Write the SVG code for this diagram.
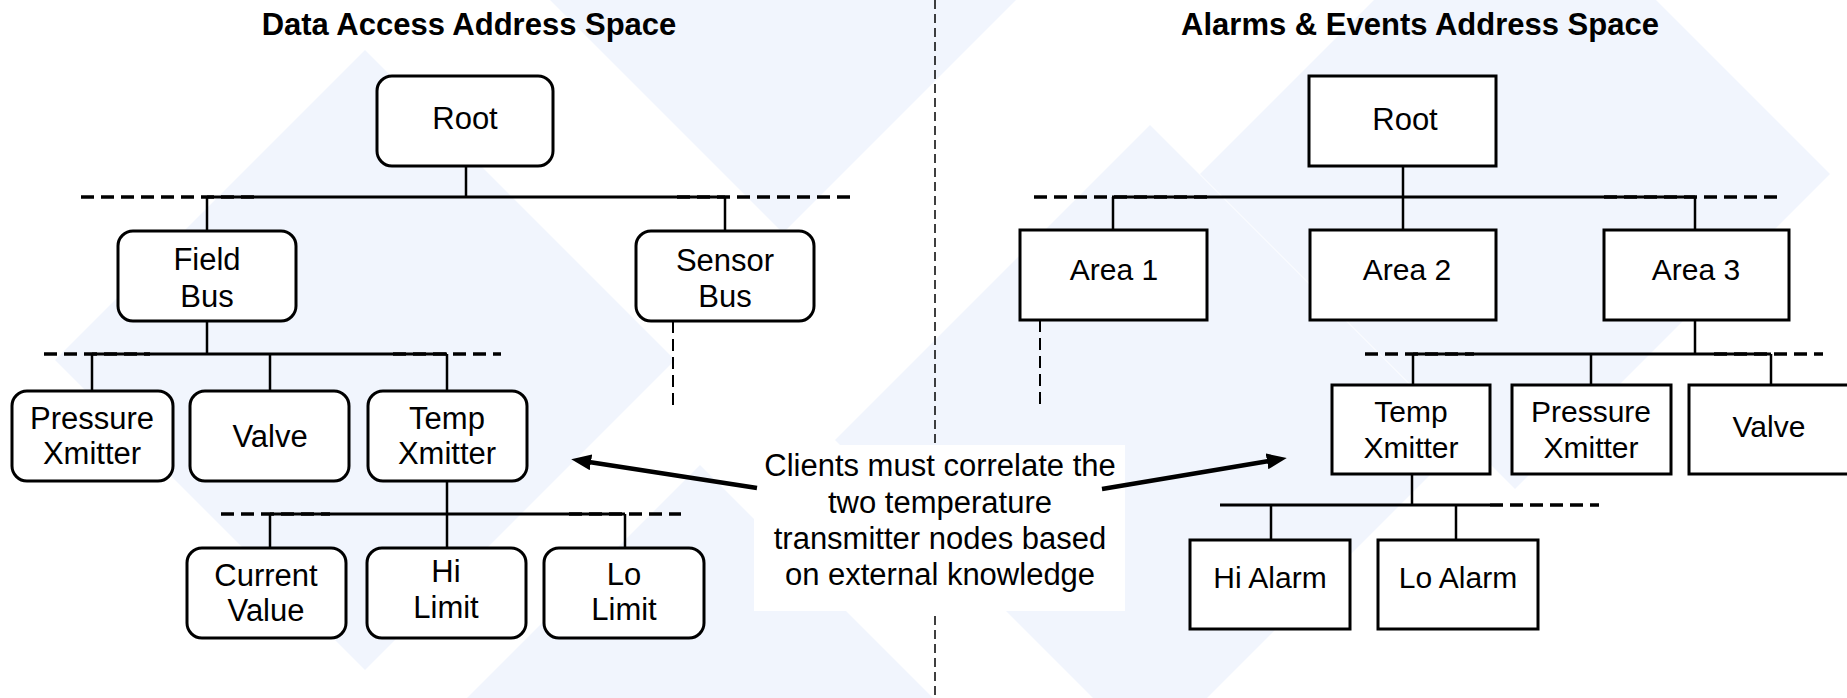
<svg xmlns="http://www.w3.org/2000/svg" width="1847" height="698" viewBox="0 0 1847 698">
  <defs>
    <style>
      .bg { fill: #f1f5fd; }
      .node { fill: #ffffff; stroke: #000000; stroke-width: 3; }
      .lbl { font-family: "Liberation Sans", Arial, sans-serif; font-size: 31px; fill: #000000; text-anchor: middle; }
      .lbl2 { font-family: "Liberation Sans", Arial, sans-serif; font-size: 30px; fill: #000000; text-anchor: middle; }
      .title { font-family: "Liberation Sans", Arial, sans-serif; font-size: 31px; font-weight: bold; fill: #000000; text-anchor: middle; }
      .link { stroke: #000000; stroke-width: 2.5; fill: none; }
      .bus { stroke: #000000; stroke-width: 3; fill: none; }
      .busx { stroke: #000000; stroke-width: 3.5; stroke-dasharray: 13 7; fill: none; }
      .more { stroke: #000000; stroke-width: 2; stroke-dasharray: 12 6; fill: none; }
      .divider { stroke: #000000; stroke-width: 1.5; stroke-dasharray: 9 5; fill: none; }
      .arrow { stroke: #000000; stroke-width: 4.5; fill: none; marker-end: url(#head); }
    </style>
    <marker id="head" viewBox="0 0 20 16" refX="2" refY="8" markerWidth="20" markerHeight="16" markerUnits="userSpaceOnUse" orient="auto">
      <path d="M0,0 L20,8 L0,16 Z" fill="#000000"/>
    </marker>
  </defs>

  <rect width="1847" height="698" fill="#ffffff"/>

  <!-- faint background diamonds -->
  <g id="backdrop">
    <polygon class="bg" points="365,50 675,360 365,670 55,360"/>
    <polygon class="bg" points="470,-80 783,233 1096,-80 783,-393"/>
    <polygon class="bg" points="1150,125 1465,440 1150,755 835,440"/>
    <polygon class="bg" points="1515,-141 1830,174 1515,489 1200,174"/>
    <polygon class="bg" points="700,465 1015,780 700,1095 385,780"/>
  </g>

  <!-- panel divider -->
  <line class="divider" x1="935" y1="0" x2="935" y2="698"/>

  <!-- panel titles -->
  <text class="title" x="469" y="35">Data Access Address Space</text>
  <text class="title" x="1420" y="35">Alarms &amp; Events Address Space</text>

  <g id="connectors">
    <!-- Data Access tree -->
    <line class="link" x1="466" y1="166" x2="466" y2="197"/>
    <line class="bus" x1="207" y1="197" x2="725" y2="197"/>
    <line class="busx" x1="81" y1="197" x2="258" y2="197"/>
    <line class="busx" x1="677" y1="197" x2="854" y2="197"/>
    <line class="link" x1="207" y1="197" x2="207" y2="231"/>
    <line class="link" x1="725" y1="197" x2="725" y2="231"/>
    <line class="more" x1="673" y1="321" x2="673" y2="409"/>

    <line class="link" x1="207" y1="321" x2="207" y2="354"/>
    <line class="bus" x1="92" y1="354" x2="447" y2="354"/>
    <line class="busx" x1="44" y1="354" x2="150" y2="354"/>
    <line class="busx" x1="393" y1="354" x2="501" y2="354"/>
    <line class="link" x1="92" y1="354" x2="92" y2="391"/>
    <line class="link" x1="270" y1="354" x2="270" y2="391"/>
    <line class="link" x1="447" y1="354" x2="447" y2="391"/>

    <line class="link" x1="447" y1="481" x2="447" y2="514"/>
    <line class="bus" x1="270" y1="514" x2="625" y2="514"/>
    <line class="busx" x1="221" y1="514" x2="330" y2="514"/>
    <line class="busx" x1="569" y1="514" x2="681" y2="514"/>
    <line class="link" x1="270" y1="514" x2="270" y2="548"/>
    <line class="link" x1="447" y1="514" x2="447" y2="548"/>
    <line class="link" x1="625" y1="514" x2="625" y2="548"/>

    <!-- Alarms & Events tree -->
    <line class="link" x1="1403" y1="166" x2="1403" y2="197"/>
    <line class="bus" x1="1112" y1="197" x2="1695" y2="197"/>
    <line class="busx" x1="1034" y1="197" x2="1212" y2="197"/>
    <line class="busx" x1="1604" y1="197" x2="1783" y2="197"/>
    <line class="link" x1="1113" y1="197" x2="1113" y2="230"/>
    <line class="link" x1="1403" y1="197" x2="1403" y2="230"/>
    <line class="link" x1="1695" y1="197" x2="1695" y2="230"/>
    <line class="more" x1="1040" y1="320" x2="1040" y2="407"/>

    <line class="link" x1="1695" y1="320" x2="1695" y2="354"/>
    <line class="bus" x1="1413" y1="354" x2="1771" y2="354"/>
    <line class="busx" x1="1365" y1="354" x2="1474" y2="354"/>
    <line class="busx" x1="1714" y1="354" x2="1823" y2="354"/>
    <line class="link" x1="1413" y1="354" x2="1413" y2="385"/>
    <line class="link" x1="1591" y1="354" x2="1591" y2="385"/>
    <line class="link" x1="1771" y1="354" x2="1771" y2="385"/>

    <line class="link" x1="1412" y1="474" x2="1412" y2="505"/>
    <line class="bus" x1="1220" y1="505" x2="1490" y2="505"/>
    <line class="busx" x1="1490" y1="505" x2="1599" y2="505"/>
    <line class="link" x1="1271" y1="505" x2="1271" y2="540"/>
    <line class="link" x1="1456" y1="505" x2="1456" y2="540"/>
  </g>

  <!-- Data Access nodes -->
  <g id="da-root"><rect class="node" x="377" y="76" width="176" height="90" rx="15"/><text class="lbl" x="465" y="129">Root</text></g>
  <g id="da-fieldbus"><rect class="node" x="118" y="231" width="178" height="90" rx="15"/><text class="lbl" x="207" y="270">Field</text><text class="lbl" x="207" y="307">Bus</text></g>
  <g id="da-sensorbus"><rect class="node" x="636" y="231" width="178" height="90" rx="15"/><text class="lbl" x="725" y="271">Sensor</text><text class="lbl" x="725" y="307">Bus</text></g>
  <g id="da-pressure"><rect class="node" x="12" y="391" width="161" height="90" rx="15"/><text class="lbl" x="92" y="429">Pressure</text><text class="lbl" x="92" y="464">Xmitter</text></g>
  <g id="da-valve"><rect class="node" x="190" y="391" width="159" height="90" rx="15"/><text class="lbl" x="270" y="447">Valve</text></g>
  <g id="da-temp"><rect class="node" x="368" y="391" width="159" height="90" rx="15"/><text class="lbl" x="447" y="429">Temp</text><text class="lbl" x="447" y="464">Xmitter</text></g>
  <g id="da-current"><rect class="node" x="187" y="548" width="159" height="90" rx="15"/><text class="lbl" x="266" y="586">Current</text><text class="lbl" x="266" y="621">Value</text></g>
  <g id="da-hilimit"><rect class="node" x="367" y="548" width="159" height="90" rx="15"/><text class="lbl" x="446" y="582">Hi</text><text class="lbl" x="446" y="618">Limit</text></g>
  <g id="da-lolimit"><rect class="node" x="544" y="548" width="160" height="90" rx="15"/><text class="lbl" x="624" y="585">Lo</text><text class="lbl" x="624" y="620">Limit</text></g>

  <!-- Alarms & Events nodes -->
  <g id="ae-root"><rect class="node" x="1309" y="76" width="187" height="90"/><text class="lbl" x="1405" y="130">Root</text></g>
  <g id="ae-area1"><rect class="node" x="1020" y="230" width="187" height="90"/><text class="lbl2" x="1114" y="280">Area 1</text></g>
  <g id="ae-area2"><rect class="node" x="1310" y="230" width="186" height="90"/><text class="lbl2" x="1407" y="280">Area 2</text></g>
  <g id="ae-area3"><rect class="node" x="1604" y="230" width="185" height="90"/><text class="lbl2" x="1696" y="280">Area 3</text></g>
  <g id="ae-temp"><rect class="node" x="1332" y="385" width="158" height="89"/><text class="lbl2" x="1411" y="422">Temp</text><text class="lbl2" x="1411" y="458">Xmitter</text></g>
  <g id="ae-pressure"><rect class="node" x="1512" y="385" width="159" height="89"/><text class="lbl2" x="1591" y="422">Pressure</text><text class="lbl2" x="1591" y="458">Xmitter</text></g>
  <g id="ae-valve"><rect class="node" x="1689" y="385" width="170" height="89"/><text class="lbl2" x="1769" y="437">Valve</text></g>
  <g id="ae-hialarm"><rect class="node" x="1190" y="540" width="160" height="89"/><text class="lbl2" x="1270" y="588">Hi Alarm</text></g>
  <g id="ae-loalarm"><rect class="node" x="1378" y="540" width="160" height="89"/><text class="lbl2" x="1458" y="588">Lo Alarm</text></g>

  <!-- callout -->
  <g id="callout">
    <rect x="754" y="445" width="371" height="166" fill="#ffffff"/>
    <text class="lbl" x="940" y="476">Clients must correlate the</text>
    <text class="lbl" x="940" y="513">two temperature</text>
    <text class="lbl" x="940" y="549">transmitter nodes based</text>
    <text class="lbl" x="940" y="585">on external knowledge</text>
  </g>

  <g id="callout-arrows">
    <line class="arrow" x1="757" y1="488" x2="589" y2="462"/>
    <line class="arrow" x1="1102" y1="489" x2="1269" y2="461"/>
  </g>
</svg>
